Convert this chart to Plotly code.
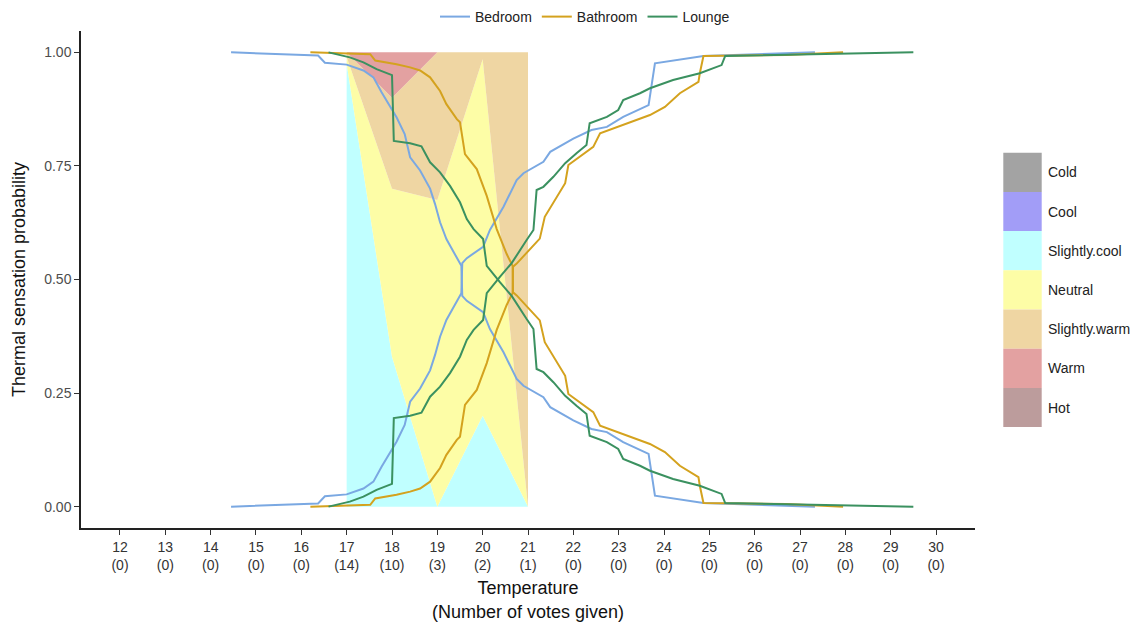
import plotly.graph_objects as go

# ---------------- data ----------------
temps = [12, 13, 14, 15, 16, 17, 18, 19, 20, 21, 22, 23, 24, 25, 26, 27, 28, 29, 30]
votes = [0, 0, 0, 0, 0, 14, 10, 3, 2, 1, 0, 0, 0, 0, 0, 0, 0, 0, 0]

# observed vote proportions (stacked areas)
area_x = [17, 18, 19, 20, 21]
cold = [0.0, 0.0, 0.0, 0.0, 0.0]
cool = [0.0, 0.0, 0.0, 0.0, 0.0]
slightly_cool = [0.975, 0.33, 0.0, 0.2, 0.0]
neutral = [0.015, 0.37, 0.675, 0.785, 0.0]
slightly_warm = [0.01, 0.20, 0.325, 0.015, 1.0]
warm = [0.0, 0.10, 0.0, 0.0, 0.0]
hot = [0.0, 0.0, 0.0, 0.0, 0.0]

# model curves (lower, rising branch and upper, falling branch)
bed_x = [14.45, 16.37, 16.52, 17.0, 17.37, 17.59, 17.77, 17.99, 18.1, 18.28, 18.4, 18.62,
         18.84, 18.95, 19.06, 19.2, 19.46, 19.53, 19.55, 19.65, 20.01, 20.16, 20.46, 20.75,
         20.9, 21.34, 21.49, 22.0, 22.4, 22.74, 23.1, 23.66, 23.8, 24.87, 27.33]
bed_low = [0.0, 0.007, 0.023, 0.027, 0.040, 0.055, 0.088, 0.125, 0.143, 0.18, 0.231, 0.26,
           0.30, 0.334, 0.374, 0.411, 0.455, 0.47, 0.536, 0.547, 0.572, 0.609, 0.66, 0.719,
           0.734, 0.759, 0.781, 0.81, 0.829, 0.836, 0.858, 0.884, 0.976, 0.992, 1.0]
bed_up = [1.0, 0.993, 0.977, 0.973, 0.960, 0.945, 0.912, 0.875, 0.857, 0.82, 0.769, 0.74,
          0.70, 0.666, 0.626, 0.589, 0.545, 0.53, 0.464, 0.453, 0.428, 0.391, 0.34, 0.281,
          0.266, 0.241, 0.219, 0.19, 0.171, 0.164, 0.142, 0.116, 0.024, 0.008, 0.0]

bath_x = [16.2, 17.52, 17.63, 18.1, 18.4, 18.62, 18.84, 19.06, 19.2, 19.43, 19.5, 19.61,
          19.87, 20.09, 20.31, 20.53, 20.66, 20.67, 20.75, 21.04, 21.26, 21.37, 21.63, 21.82,
          21.89, 22.15, 22.44, 22.59, 23.1, 23.69, 24.02, 24.35, 24.76, 24.79, 24.87, 26.7, 27.95]
bath_low = [0.0, 0.004, 0.018, 0.026, 0.033, 0.04, 0.055, 0.085, 0.114, 0.147, 0.154, 0.224,
            0.257, 0.316, 0.389, 0.444, 0.47, 0.528, 0.535, 0.565, 0.59, 0.638, 0.682, 0.712,
            0.752, 0.770, 0.792, 0.822, 0.84, 0.862, 0.880, 0.91, 0.935, 0.954, 0.992, 0.994, 1.0]
bath_up = [1.0, 0.996, 0.982, 0.974, 0.967, 0.96, 0.945, 0.915, 0.886, 0.853, 0.846, 0.776,
           0.743, 0.684, 0.611, 0.556, 0.53, 0.472, 0.465, 0.435, 0.41, 0.362, 0.318, 0.288,
           0.248, 0.23, 0.208, 0.178, 0.16, 0.138, 0.12, 0.09, 0.065, 0.046, 0.008, 0.006, 0.0]

lounge_x = [16.6, 17.07, 17.37, 17.66, 18.0, 18.04, 18.4, 18.65, 18.84, 19.06, 19.28, 19.5,
            19.65, 19.8, 20.01, 20.09, 20.38, 20.64, 20.97, 21.12, 21.19, 21.34, 21.56, 21.82,
            22.07, 22.29, 22.36, 22.74, 22.99, 23.1, 23.47, 23.69, 24.2, 24.79, 25.27, 25.35, 29.5]
lounge_low = [0.0, 0.011, 0.022, 0.037, 0.05, 0.195, 0.20, 0.207, 0.242, 0.264, 0.294, 0.33,
              0.367, 0.389, 0.411, 0.47, 0.506, 0.536, 0.587, 0.609, 0.697, 0.704, 0.726, 0.756,
              0.778, 0.796, 0.844, 0.858, 0.873, 0.895, 0.910, 0.921, 0.939, 0.954, 0.972, 0.992, 1.0]
lounge_up = [1.0, 0.989, 0.978, 0.963, 0.95, 0.805, 0.80, 0.793, 0.758, 0.736, 0.706, 0.67,
             0.633, 0.611, 0.589, 0.53, 0.494, 0.464, 0.413, 0.391, 0.303, 0.296, 0.274, 0.244,
             0.222, 0.204, 0.156, 0.142, 0.127, 0.105, 0.09, 0.079, 0.061, 0.046, 0.028, 0.008, 0.0]

# ---------------- styles ----------------
area_names = ["Cold", "Cool", "Slightly.cool", "Neutral", "Slightly.warm", "Warm", "Hot"]
area_vals = [cold, cool, slightly_cool, neutral, slightly_warm, warm, hot]
area_cols = ["#A3A3A3", "#A29DF7", "#C0FFFF", "#FDFDA6", "#EFD6A3", "#E3A1A1", "#BC9C9C"]

line_names = ["Bedroom", "Bathroom", "Lounge"]
line_data = [(bed_x, bed_low, bed_up), (bath_x, bath_low, bath_up), (lounge_x, lounge_low, lounge_up)]
line_cols = ["#7AA8E2", "#D4A21E", "#3B9160"]

fig = go.Figure()

for name, vals, col in zip(area_names, area_vals, area_cols):
    fig.add_trace(go.Scatter(
        x=area_x, y=vals, mode="lines", stackgroup="votes", name=name,
        line=dict(width=0, color=col), fillcolor=col, showlegend=False,
        hoverinfo="skip"))

for name, (xs, lo, up), col in zip(line_names, line_data, line_cols):
    fig.add_trace(go.Scatter(
        x=list(xs) + [None] + list(xs), y=list(lo) + [None] + list(up),
        mode="lines", name=name, connectgaps=False,
        line=dict(color=col, width=2)))

# page offset (browser body margin) and target pixel frame
OFF = 8
W, H = 1146 - OFF, 625 - OFF
L, R, T, B = 81 - OFF, 975 - OFF, 31 - OFF, 528 - OFF
pw, ph = R - L, B - T


def px(xp):
    return (xp - OFF - L) / pw


def py(yp):
    return (B - (yp - OFF)) / ph


# ggplot-style fill legend (keys + labels)
key_x0, key_x1 = 1003.3, 1041.7
key_top, key_h = 152.7, 39.2
for i, (name, col) in enumerate(zip(area_names, area_cols)):
    y0 = key_top + i * key_h
    y1 = y0 + key_h
    fig.add_shape(type="rect", xref="paper", yref="paper",
                  x0=px(key_x0), x1=px(key_x1), y0=py(y1), y1=py(y0),
                  fillcolor=col, line=dict(width=0), layer="above")
    fig.add_annotation(xref="paper", yref="paper", x=px(1046),
                       y=py(y0 + key_h / 2), text=name, showarrow=False,
                       xanchor="left", yanchor="middle",
                       font=dict(size=14, color="#222222"))

fig.update_layout(
    width=W, height=H,
    margin=dict(l=L, r=W - R, t=T, b=H - B, autoexpand=False),
    plot_bgcolor="white", paper_bgcolor="white",
    font=dict(family="Liberation Sans, Arial, sans-serif", size=14, color="#222222"),
    legend=dict(orientation="h", x=px(585), xanchor="center",
                y=py(17), yanchor="middle", font=dict(size=14),
                bgcolor="rgba(0,0,0,0)", traceorder="normal"),
    showlegend=True,
)

fig.update_xaxes(
    range=[11.14, 30.86], tickvals=temps, automargin=False,
    ticktext=[f"{t}<br>({v})" for t, v in zip(temps, votes)],
    showgrid=False, zeroline=False, showline=True, linecolor="#222222", linewidth=1.5,
    ticks="outside", ticklen=5, tickcolor="#333333", tickwidth=1,
    tickfont=dict(size=14, color="#333333"),
    title=dict(text="Temperature<br>(Number of votes given)", font=dict(size=18, color="#111111"),
               standoff=10))
fig.update_yaxes(
    range=[-0.047, 1.047], tickvals=[0, 0.25, 0.5, 0.75, 1.0], tickformat=".2f",
    automargin=False,
    showgrid=False, zeroline=False, showline=True, linecolor="#222222", linewidth=1.5,
    ticks="outside", ticklen=5, tickcolor="#333333", tickwidth=1,
    tickfont=dict(size=14, color="#4D4D4D"),
    title=dict(text="Thermal sensation probability", font=dict(size=18, color="#111111"),
               standoff=14))

fig.write_html("out.html")
